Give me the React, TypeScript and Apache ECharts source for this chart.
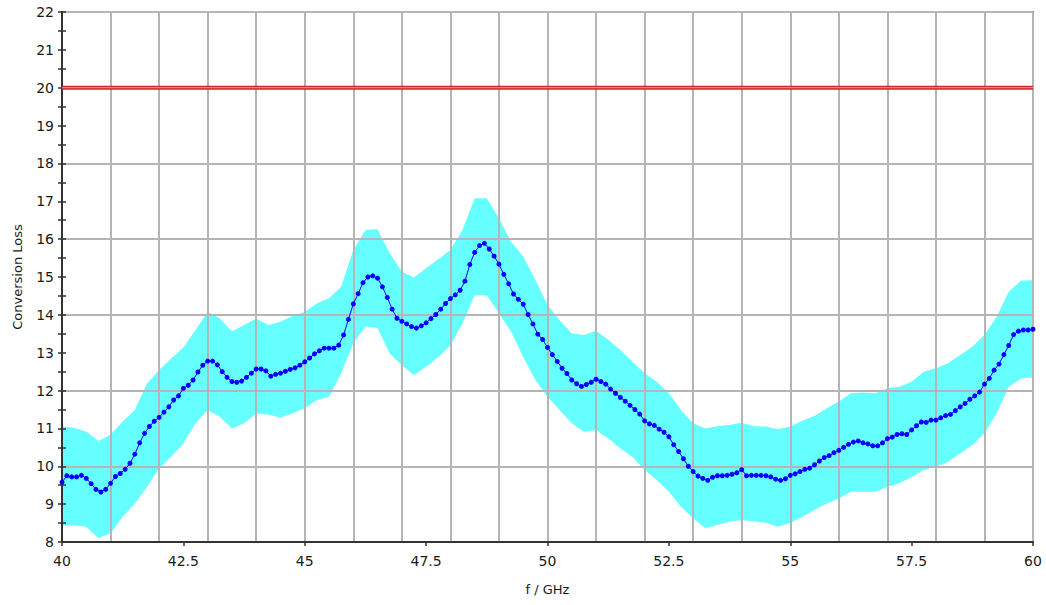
import React, { useEffect, useRef } from "react";
import * as echarts from "echarts";

// Sampling grid of the measured curve (GHz)
const freqStart = 40;
const freqStep = 0.1;

// Conversion loss, one value per 0.1 GHz from 40 to 60 GHz
const conversionLoss: number[] = [
  9.58, 9.75, 9.72, 9.72, 9.76, 9.68, 9.54, 9.39, 9.32, 9.39,
  9.55, 9.73, 9.81, 9.92, 10.08, 10.32, 10.62, 10.87, 11.05, 11.19,
  11.29, 11.43, 11.57, 11.75, 11.86, 12.06, 12.14, 12.28, 12.49, 12.67,
  12.78, 12.78, 12.68, 12.5, 12.35, 12.24, 12.22, 12.25, 12.35, 12.46,
  12.57, 12.57, 12.52, 12.38, 12.43, 12.46, 12.51, 12.56, 12.6, 12.67,
  12.76, 12.86, 12.97, 13.05, 13.12, 13.12, 13.12, 13.2, 13.47, 13.88,
  14.29, 14.56, 14.85, 15.0, 15.03, 14.97, 14.74, 14.46, 14.15, 13.91,
  13.83, 13.76, 13.69, 13.65, 13.71, 13.79, 13.9, 14.01, 14.15, 14.3,
  14.43, 14.53, 14.65, 14.89, 15.33, 15.65, 15.83, 15.89, 15.74, 15.55,
  15.34, 15.07, 14.82, 14.55, 14.41, 14.28, 14.01, 13.76, 13.49, 13.35,
  13.14, 12.95, 12.77, 12.59, 12.45, 12.28, 12.18, 12.11, 12.16, 12.22,
  12.3, 12.24, 12.17, 12.04, 11.93, 11.82, 11.72, 11.61, 11.5, 11.38,
  11.2, 11.12, 11.08, 10.98, 10.9, 10.78, 10.57, 10.39, 10.2, 10.0,
  9.86, 9.74, 9.68, 9.63, 9.71, 9.75, 9.75, 9.76, 9.79, 9.83,
  9.91, 9.75, 9.76, 9.76, 9.76, 9.75, 9.72, 9.66, 9.63, 9.67,
  9.76, 9.8, 9.86, 9.92, 9.95, 10.04, 10.14, 10.23, 10.28, 10.36,
  10.42, 10.5, 10.58, 10.64, 10.67, 10.62, 10.59, 10.54, 10.54, 10.62,
  10.73, 10.77, 10.84, 10.86, 10.84, 10.96, 11.07, 11.17, 11.16, 11.22,
  11.22, 11.28, 11.34, 11.37, 11.47, 11.57, 11.66, 11.77, 11.86, 11.96,
  12.17, 12.32, 12.54, 12.7, 12.95, 13.19, 13.48, 13.57, 13.6, 13.6,
  13.62,
];

// Tolerance band, one value per 0.25 GHz from 40 to 60 GHz
const bandStep = 0.25;
const bandUpper: number[] = [
  11.05, 11.02, 10.91, 10.67, 10.83, 11.18, 11.49, 12.19, 12.54, 12.85,
  13.14, 13.6, 14.08, 13.91, 13.56, 13.73, 13.9, 13.73, 13.82, 13.97,
  14.08, 14.3, 14.44, 14.74, 15.71, 16.24, 16.26, 15.63, 15.14, 14.99,
  15.23, 15.47, 15.71, 16.24, 17.08, 17.08, 16.55, 15.93, 15.54, 14.92,
  14.26, 13.86, 13.51, 13.47, 13.58, 13.34, 13.07, 12.76, 12.46, 12.23,
  11.93, 11.49, 11.14, 11.0, 11.06, 11.09, 11.15, 11.06, 11.05, 10.98,
  11.05, 11.2, 11.33, 11.53, 11.71, 11.93, 11.95, 11.93, 12.06, 12.1,
  12.23, 12.5, 12.59, 12.72, 12.94, 13.16, 13.47, 13.95, 14.61, 14.9,
  14.92,
];
const bandLower: number[] = [
  8.42, 8.44, 8.4, 8.1, 8.23, 8.67, 9.02, 9.46, 9.95, 10.25,
  10.61, 11.14, 11.49, 11.31, 11.0, 11.14, 11.4, 11.36, 11.29, 11.4,
  11.53, 11.75, 11.84, 12.46, 13.25, 13.69, 13.65, 12.98, 12.67, 12.41,
  12.63, 12.89, 13.2, 13.78, 14.52, 14.52, 14.04, 13.56, 12.89, 12.28,
  11.84, 11.49, 11.14, 10.91, 10.96, 10.74, 10.47, 10.25, 9.9, 9.64,
  9.33, 8.93, 8.63, 8.36, 8.45, 8.54, 8.58, 8.54, 8.51, 8.4,
  8.51, 8.67, 8.85, 9.02, 9.15, 9.33, 9.33, 9.33, 9.46, 9.55,
  9.72, 9.9, 9.99, 10.12, 10.34, 10.56, 10.87, 11.4, 12.1, 12.32,
  12.35,
];

// Limit line
const limitValue = 20;
const limitFreqs = [40, 60];

const FONT = "'DejaVu Sans', Verdana, sans-serif";

export default function App() {
  const ref = useRef<HTMLDivElement>(null);

  useEffect(() => {
    if (!ref.current) return;
    const chart = echarts.init(ref.current, undefined, { renderer: "svg" });

    const freqs = conversionLoss.map((_, i) => +(freqStart + i * freqStep).toFixed(2));
    const bandFreqs = bandUpper.map((_, i) => +(freqStart + i * bandStep).toFixed(2));
    const lineData = freqs.map((f, i) => [f, conversionLoss[i]]);
    const bandData = bandFreqs.map((f, i) => [f, bandUpper[i], bandLower[i]]);
    const limitData = limitFreqs.map((f) => [f, limitValue]);

    const tickStyle = { color: "#333", width: 1.5 };
    const gridLine = { color: "#b5b5b5", width: 2 };

    const option: any = {
      animation: false,
      grid: {
        left: 62,
        right: 13,
        top: 12,
        bottom: 63,
        show: true,
        z: 3,
        borderColor: "#000",
        borderWidth: 1.5,
        backgroundColor: "transparent",
      },
      xAxis: [
        {
          type: "value",
          min: 40,
          max: 60,
          interval: 2.5,
          z: 3,
          axisLine: { show: true, onZero: false, lineStyle: { color: "#333", width: 2 } },
          axisTick: { show: true, length: 4, lineStyle: tickStyle },
          axisLabel: { fontSize: 14, color: "#1a1a1a", margin: 12, fontFamily: FONT },
          splitLine: { show: false },
          name: "f / GHz",
          nameLocation: "middle",
          nameGap: 41,
          nameTextStyle: { fontSize: 13, color: "#1a1a1a", fontFamily: FONT },
        },
        {
          type: "value",
          min: 40,
          max: 60,
          interval: 1,
          z: 3,
          position: "bottom",
          axisLine: { show: false },
          axisTick: { show: false },
          axisLabel: { show: false },
          splitLine: { show: true, lineStyle: gridLine },
        },
      ],
      yAxis: [
        {
          type: "value",
          min: 8,
          max: 22,
          interval: 1,
          z: 3,
          axisLine: { show: true, onZero: false, lineStyle: { color: "#333", width: 2 } },
          axisTick: { show: true, length: 4, lineStyle: tickStyle },
          minorTick: { show: true, splitNumber: 2, length: 4, lineStyle: tickStyle },
          axisLabel: { fontSize: 14, color: "#1a1a1a", margin: 8, fontFamily: FONT },
          splitLine: { show: false },
          name: "Conversion Loss",
          nameLocation: "middle",
          nameGap: 38,
          nameTextStyle: { fontSize: 13, color: "#1a1a1a", fontFamily: FONT },
        },
        {
          type: "value",
          min: 8,
          max: 22,
          interval: 0.5,
          z: 3,
          position: "left",
          axisLine: { show: false },
          axisTick: { show: true, inside: true, length: 4, lineStyle: tickStyle },
          axisLabel: { show: false },
          splitLine: { show: false },
        },
        {
          type: "value",
          min: 8,
          max: 22,
          interval: 2,
          z: 3,
          position: "left",
          axisLine: { show: false },
          axisTick: { show: false },
          axisLabel: { show: false },
          splitLine: { show: true, lineStyle: gridLine },
        },
      ],
      series: [
        {
          type: "custom",
          z: 1,
          xAxisIndex: 0,
          yAxisIndex: 0,
          silent: true,
          data: bandData,
          encode: { x: 0, y: [1, 2] },
          renderItem: (params: any, api: any) => {
            if (params.dataIndex !== 0) return null;
            const pts: number[][] = [];
            for (let i = 0; i < bandFreqs.length; i++) {
              pts.push(api.coord([bandFreqs[i], bandUpper[i]]));
            }
            for (let i = bandFreqs.length - 1; i >= 0; i--) {
              pts.push(api.coord([bandFreqs[i], bandLower[i]]));
            }
            return {
              type: "polygon",
              shape: { points: pts },
              style: { fill: "#66ffff" },
            };
          },
        },
        {
          type: "line",
          z: 4,
          xAxisIndex: 0,
          yAxisIndex: 0,
          data: limitData,
          symbol: "none",
          silent: true,
          lineStyle: { color: "#d42424", width: 4 },
        },
        {
          type: "line",
          z: 4,
          xAxisIndex: 0,
          yAxisIndex: 0,
          data: limitData,
          symbol: "none",
          silent: true,
          lineStyle: { color: "#f29a9a", width: 1 },
        },
        {
          type: "line",
          z: 5,
          xAxisIndex: 0,
          yAxisIndex: 0,
          data: lineData,
          symbol: "circle",
          symbolSize: 5,
          showSymbol: true,
          showAllSymbol: true,
          lineStyle: { color: "#0000ff", width: 1 },
          itemStyle: { color: "#0000ff" },
        },
      ],
    };

    chart.setOption(option);
    return () => chart.dispose();
  }, []);

  return (
    <div
      ref={ref}
      style={{ position: "absolute", left: 0, top: 0, width: 1046, height: 605, background: "#fff" }}
    />
  );
}
